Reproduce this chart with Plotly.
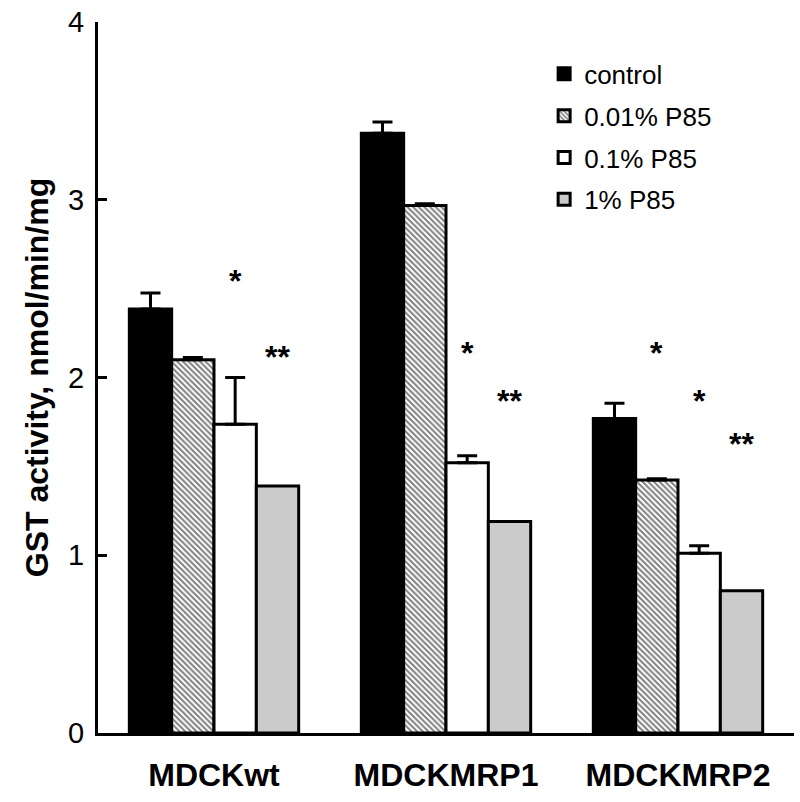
import plotly.graph_objects as go

categories = ["MDCKwt", "MDCKMRP1", "MDCKMRP2"]
series_names = ["control", "0.01% P85", "0.1% P85", "1% P85"]

control = [2.385, 3.374, 1.77]
p85_001 = [2.10, 2.967, 1.423]
p85_01 = [1.737, 1.52, 1.011]
p85_1 = [1.39, 1.19, 0.80]

err_control = [0.09, 0.063, 0.085]
err_p85_001 = [0.012, 0.01, 0.008]
err_p85_01 = [0.263, 0.04, 0.043]
err_p85_1 = [0.0, 0.0, 0.0]

# significance marks: (category, series index, label, y position of glyph)
sig_cat = ["MDCKwt", "MDCKwt", "MDCKMRP1", "MDCKMRP1", "MDCKMRP2", "MDCKMRP2", "MDCKMRP2"]
sig_series = [2, 3, 2, 3, 1, 2, 3]
sig_text = ["*", "**", "*", "**", "*", "*", "**"]
sig_y = [2.58, 2.155, 2.18, 1.91, 2.18, 1.91, 1.665]

values = [control, p85_001, p85_01, p85_1]
errors = [err_control, err_p85_001, err_p85_01, err_p85_1]

FONT = "Liberation Sans, Arial, sans-serif"
fills = ["black", "white", "white", "#cbcbcb"]

fig = go.Figure()
for i, (name, vals, errs) in enumerate(zip(series_names, values, errors)):
    marker = dict(color=fills[i], line=dict(color="black", width=3))
    if i == 1:
        marker["pattern"] = dict(shape="\\", fgcolor="black", bgcolor="white",
                                 size=4, solidity=0.5, fillmode="overlay")
    show_err = any(e > 0 for e in errs)
    fig.add_trace(go.Bar(
        x=categories, y=vals, name=name, marker=marker,
        legendgroup=name,
        error_y=dict(type="data", array=errs, arrayminus=[0] * len(errs),
                     symmetric=False, color="black", thickness=3, width=10,
                     visible=show_err),
    ))

bargap = 0.27
plot_left, plot_right = 98, 794
cat_px = (plot_right - plot_left) / len(categories)
bar_px = cat_px * (1 - bargap) / len(series_names)

for c, s, t, y in zip(sig_cat, sig_series, sig_text, sig_y):
    fig.add_annotation(
        x=c, y=y, text=t, showarrow=False,
        xshift=(s - (len(series_names) - 1) / 2) * bar_px,
        yshift=-7,
        font=dict(family=FONT, size=32, color="black", weight="bold"),
    )

fig.update_layout(
    width=800, height=802,
    margin=dict(l=plot_left, r=800 - plot_right, t=22, b=69, autoexpand=False),
    paper_bgcolor="white", plot_bgcolor="white",
    barmode="group", bargap=bargap, bargroupgap=0,
    font=dict(family=FONT, color="black"),
    legend=dict(
        x=0.641, y=0.96, xanchor="left", yanchor="top",
        font=dict(family=FONT, size=26, color="black"),
        tracegroupgap=5, bgcolor="rgba(0,0,0,0)",
    ),
    showlegend=True,
)

fig.update_yaxes(
    range=[0, 4], tickvals=[0, 1, 2, 3, 4],
    showline=True, linecolor="black", linewidth=3,
    ticks="inside", ticklen=9, tickwidth=3, tickcolor="black",
    tickfont=dict(family=FONT, size=29, color="black"),
    ticklabelstandoff=5,
    showgrid=False, zeroline=False, automargin=False,
    title=dict(text="GST activity, nmol/min/mg", standoff=10,
               font=dict(family=FONT, size=32, color="black", weight="bold")),
)
fig.update_xaxes(
    showline=True, linecolor="black", linewidth=3,
    ticks="", showgrid=False, automargin=False,
    tickfont=dict(family=FONT, size=32, color="black", weight="bold"),
    ticklabelstandoff=12,
)

fig.write_html(
    "out.html",
    config={"displayModeBar": False},
    post_script="document.body.style.margin='0';document.body.style.overflow='hidden';",
)
